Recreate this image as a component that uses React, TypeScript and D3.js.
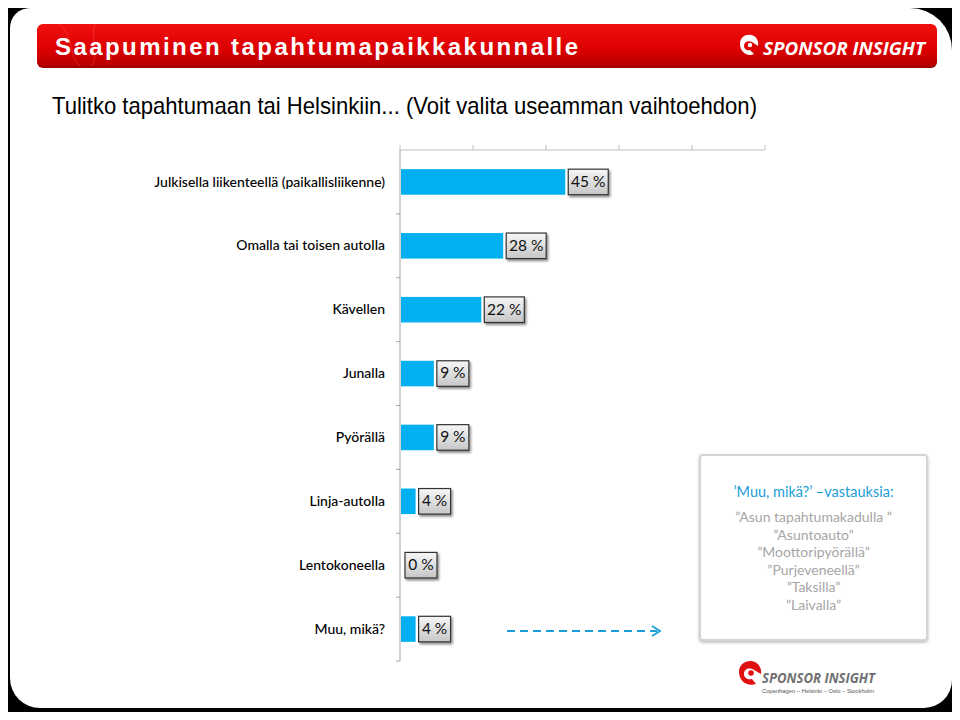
import React from 'react';
import * as d3 from 'd3';

const categories = [
  'Julkisella liikenteellä (paikallisliikenne)',
  'Omalla tai toisen autolla',
  'Kävellen',
  'Junalla',
  'Pyörällä',
  'Linja-autolla',
  'Lentokoneella',
  'Muu, mikä?',
];
const values = [45, 28, 22, 9, 9, 4, 0, 4];
const xTicks = [0, 20, 40, 60, 80, 100];
const otherTitle = '\u2019Muu, mikä?\u2019 \u2013vastauksia:';
const otherAnswers = [
  '\u201DAsun tapahtumakadulla \u201D',
  '\u201DAsuntoauto\u201D',
  '\u201DMoottoripyörällä\u201D',
  '\u201DPurjeveneellä\u201D',
  '\u201DTaksilla\u201D',
  '\u201DLaivalla\u201D',
];

const W = 960;
const H = 720;
const font = 'Lato, "Open Sans", sans-serif';
const barColor = '#00b0f0';

export default function App() {
  const x = d3.scaleLinear().domain([0, 100]).range([400, 765]);
  const y = d3.scaleBand().domain(categories).range([150, 661]).paddingInner(0.6).paddingOuter(0.3);
  const band = d3.scaleBand().domain(categories).range([150, 661]);
  const bh = y.bandwidth();

  // note box position
  const nx = 700, ny = 455, nw = 227, nh = 185;
  const lineY = d3.scaleLinear().domain([0, 1]).range([518, 535.6]);

  return (
    <div style={{ margin: -8 }}>
      <svg width={W} height={H} style={{ display: 'block', background: '#000' }}>
        <defs>
          <linearGradient id="hdr" x1="0" y1="0" x2="0" y2="1">
            <stop offset="0" stopColor="#f01010" />
            <stop offset="0.6" stopColor="#dd0000" />
            <stop offset="1" stopColor="#b80000" />
          </linearGradient>
          <linearGradient id="lbl" x1="0" y1="0" x2="0" y2="1">
            <stop offset="0" stopColor="#f7f7f7" />
            <stop offset="1" stopColor="#c6c6c6" />
          </linearGradient>
          <filter id="sh" x="-20%" y="-20%" width="150%" height="160%">
            <feDropShadow dx="1.5" dy="2" stdDeviation="1.2" floodColor="#000" floodOpacity="0.45" />
          </filter>
          <filter id="nsh" x="-10%" y="-10%" width="120%" height="120%">
            <feDropShadow dx="0" dy="1.5" stdDeviation="1.5" floodColor="#888" floodOpacity="0.6" />
          </filter>
        </defs>

        {/* white card */}
        <path
          d="M30,8 H910 A42,42 0 0 1 952,50 V680 A28,28 0 0 1 924,708 H40 A30,30 0 0 1 10,678 V28 A20,20 0 0 1 30,8 Z"
          fill="#fff"
        />

        {/* header bar */}
        <rect x={37} y={26} width={900} height={42} rx={6} fill="#a00000" />
        <rect x={37} y={24} width={900} height={42} rx={6} fill="url(#hdr)" />
        <path d="M60,24 C75,40 68,55 80,66 M95,24 C90,40 100,50 92,66" stroke="#ff6060" strokeOpacity={0.35} fill="none" />
        <text
          x={55}
          y={55}
          fill="#fff"
          fontFamily='"Liberation Sans Narrow", "Liberation Sans", Arial, sans-serif'
          fontWeight="bold"
          fontSize={24}
          textLength={523}
          lengthAdjust="spacing"
        >
          Saapuminen tapahtumapaikkakunnalle
        </text>
        <g transform="translate(738,34)">
          <path d="M2,10 C2,2 10,-1 16,2 C19,4 21,8 20,12 L14,8 C10,6 6,8 6,12 C6,15 9,17 12,16 L16,20 C9,23 2,18 2,10 Z" fill="#fff" />
          <circle cx={12} cy={11} r={2.2} fill="#fff" />
        </g>
        <text
          x={763}
          y={55}
          fill="#fff"
          fontFamily='"Open Sans", sans-serif'
          fontWeight="bold"
          fontStyle="italic"
          fontSize={17}
          textLength={162}
          lengthAdjust="spacingAndGlyphs"
        >
          SPONSOR INSIGHT
        </text>

        {/* subtitle */}
        <text
          x={52}
          y={114}
          fill="#000"
          fontFamily='"Liberation Sans Narrow", "Liberation Sans", Arial, sans-serif'
          fontSize={24}
          textLength={705}
          lengthAdjust="spacingAndGlyphs"
        >
          Tulitko tapahtumaan tai Helsinkiin... (Voit valita useamman vaihtoehdon)
        </text>

        {/* axes */}
        <line x1={x(0)} x2={x(100)} y1={150} y2={150} stroke="#bfbfbf" />
        {xTicks.map((t) => (
          <line key={t} x1={x(t)} x2={x(t)} y1={145} y2={150} stroke="#bfbfbf" />
        ))}
        <line x1={x(0)} x2={x(0)} y1={150} y2={661} stroke="#a6a6a6" />
        {categories.map((c) => (
          <line key={c} x1={396} x2={400} y1={band(c)! + band.bandwidth()} y2={band(c)! + band.bandwidth()} stroke="#a6a6a6" />
        ))}

        {/* bars and labels */}
        {categories.map((c, i) => {
          const v = values[i];
          const yy = y(c)!;
          const label = `${v} %`;
          const lw = 8 + label.length * 8;
          const lx = x(v) + (v > 0 ? 4 : 5);
          return (
            <g key={c}>
              <text
                x={385}
                y={yy + bh / 2 + 1}
                textAnchor="end"
                dominantBaseline="middle"
                fontFamily={font}
                fontSize={14}
                fontWeight={500}
                fill="#000"
              >
                {c}
              </text>
              {v > 0 && <rect x={x(0) + 1} y={yy} width={x(v) - x(0)} height={bh} fill={barColor} />}
              <rect
                x={lx}
                y={yy}
                width={lw}
                height={bh}
                fill="url(#lbl)"
                stroke="#333"
                strokeWidth={1.2}
                filter="url(#sh)"
              />
              <text
                x={lx + lw / 2}
                y={yy + bh / 2 + 1}
                textAnchor="middle"
                dominantBaseline="middle"
                fontFamily={font}
                fontSize={15.5}
                fill="#111"
              >
                {label}
              </text>
            </g>
          );
        })}

        {/* note box */}
        <rect x={nx} y={ny} width={nw} height={nh} rx={3} fill="#fff" stroke="#d4d4d4" strokeWidth={2} filter="url(#nsh)" />
        <text x={nx + nw / 2} y={497} textAnchor="middle" fontFamily={font} fontSize={14.5} fill="#1aa0d8">
          {otherTitle}
        </text>
        {otherAnswers.map((a, i) => (
          <text key={a} x={nx + nw / 2} y={lineY(i) + 4} textAnchor="middle" fontFamily={font} fontSize={14} fill="#a6a6a6">
            {a}
          </text>
        ))}

        {/* dashed arrow */}
        <line x1={507} x2={657} y1={631} y2={631} stroke="#1aa0d8" strokeWidth={2} strokeDasharray="8,5" />
        <path d="M652,626 L660,631 L652,636" fill="none" stroke="#1aa0d8" strokeWidth={1.8} />

        {/* bottom logo */}
        <g transform="translate(737,660)">
          <path d="M2,12 C2,3 11,-1 18,2 C22,4 25,9 24,14 L17,10 C12,7 7,9 7,14 C7,18 11,20 15,19 L19,24 C10,27 2,21 2,12 Z" fill="#e01010" />
          <circle cx={14} cy={13} r={2.8} fill="#e01010" />
        </g>
        <text
          x={762}
          y={683}
          fill="#707070"
          fontFamily='"Open Sans", sans-serif'
          fontWeight="bold"
          fontStyle="italic"
          fontSize={15}
          textLength={113}
          lengthAdjust="spacingAndGlyphs"
        >
          SPONSOR INSIGHT
        </text>
        <text
          x={762}
          y={693}
          fill="#555"
          fontFamily='"Liberation Sans", sans-serif'
          fontSize={5.5}
          textLength={112}
          lengthAdjust="spacingAndGlyphs"
        >
          Copenhagen – Helsinki – Oslo – Stockholm
        </text>
      </svg>
    </div>
  );
}
